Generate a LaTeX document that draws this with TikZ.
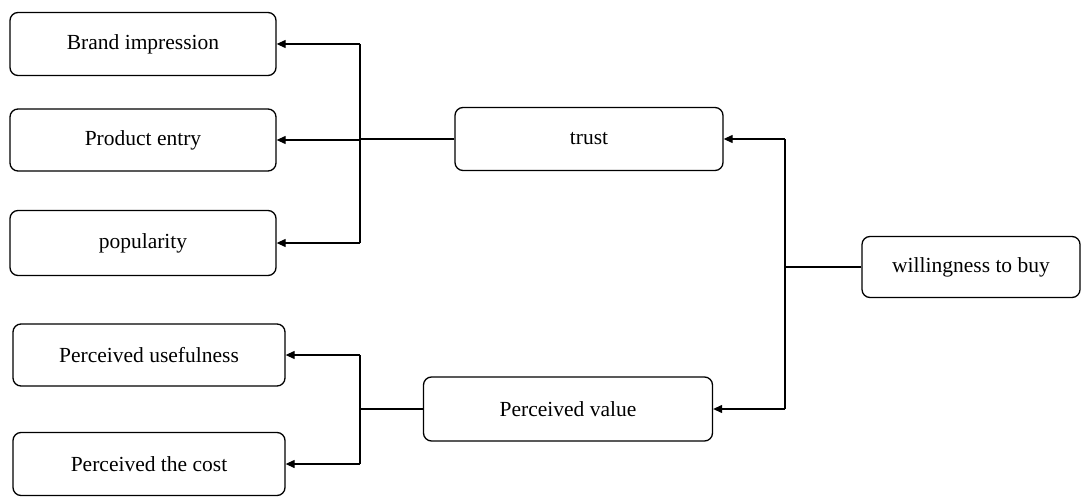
\documentclass[tikz,border=0pt]{standalone}
\usepackage{fontspec}
\setmainfont{Liberation Serif}
\usetikzlibrary{arrows.meta}
\begin{document}
\begin{tikzpicture}[x=1pt,y=-1pt,
  box/.style={draw, line width=1.3pt, rounded corners=8pt, inner sep=0pt, font=\fontsize{21.5}{25}\selectfont},
  conn/.style={line width=1.2pt},
  arr/.style={conn, -{Triangle[length=9pt,width=8pt]}}]
\useasboundingbox (0,0) rectangle (1091,497);
\node[box, minimum width=266pt, minimum height=63pt] (b1) at (143,44) {Brand impression};
\node[box, minimum width=266pt, minimum height=62pt] (b2) at (143,140) {Product entry};
\node[box, minimum width=266pt, minimum height=65pt] (b3) at (143,243) {popularity};
\node[box, minimum width=272pt, minimum height=62pt] (b4) at (149,355) {Perceived usefulness};
\node[box, minimum width=272pt, minimum height=63pt] (b5) at (149,464) {Perceived the cost};
\node[box, minimum width=268pt, minimum height=63pt] (trust) at (589,139) {trust};
\node[box, minimum width=289pt, minimum height=64pt] (pv) at (568,409) {Perceived value};
\node[box, minimum width=218pt, minimum height=61pt] (wtb) at (971,267) {willingness to buy};
\coordinate (jl) at (360,0);
\coordinate (jr) at (785,0);
% trust branch
\draw[conn] (trust.west) -- (trust.west -| jl);
\draw[conn] (jl |- b1.east) -- (jl |- b3.east);
\draw[arr] (jl |- b1.east) -- (b1.east);
\draw[arr] (jl |- b2.east) -- (b2.east);
\draw[arr] (jl |- b3.east) -- (b3.east);
% perceived value branch
\draw[conn] (pv.west) -- (pv.west -| jl);
\draw[conn] (jl |- b4.east) -- (jl |- b5.east);
\draw[arr] (jl |- b4.east) -- (b4.east);
\draw[arr] (jl |- b5.east) -- (b5.east);
% willingness branch
\draw[conn] (wtb.west) -- (wtb.west -| jr);
\draw[conn] (jr |- trust.east) -- (jr |- pv.east);
\draw[arr] (jr |- trust.east) -- (trust.east);
\draw[arr] (jr |- pv.east) -- (pv.east);
\end{tikzpicture}
\end{document}
